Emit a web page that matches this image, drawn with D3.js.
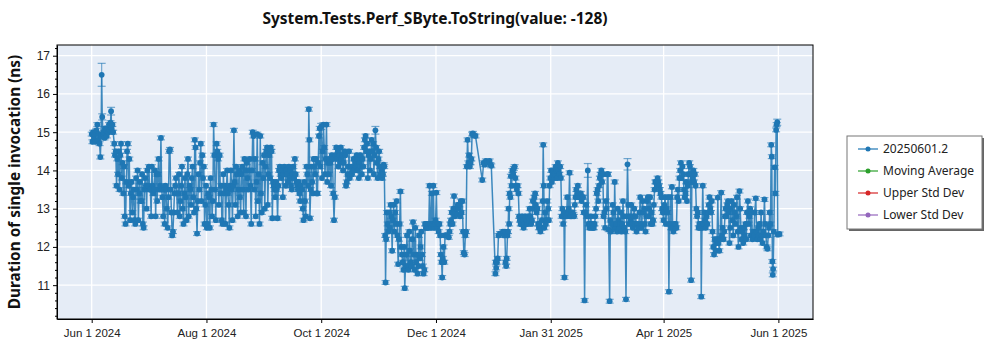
<!DOCTYPE html>
<html><head><meta charset="utf-8">
<script src="https://cdn.jsdelivr.net/npm/d3@7"></script>
<style>
html,body{margin:0;padding:0;background:#fff;}
svg{display:block;font-family:"Noto Sans","Open Sans",sans-serif;}
</style></head>
<body><svg id="c" width="1000" height="350"></svg>
<script>
const chartTitle = "System.Tests.Perf_SByte.ToString(value: -128)";
const yAxisTitle = "Duration of single invocation (ns)";
const seriesNames = ["20250601.2", "Moving Average", "Upper Std Dev", "Lower Std Dev"];
const seriesColors = ["#1f77b4", "#2ca02c", "#d62728", "#9467bd"];
const firstRun = "2024-06-01";
const xTickDates = ["2024-06-01","2024-08-01","2024-10-01","2024-12-01","2025-01-31","2025-04-01","2025-06-01"];
const xTickLabels = ["Jun 1 2024","Aug 1 2024","Oct 1 2024","Dec 1 2024","Jan 31 2025","Apr 1 2025","Jun 1 2025"];
const yTickValues = [11, 12, 13, 14, 15, 16, 17];

// days after firstRun
const runDay = [
0.0,0.4,0.8,1.2,1.6,2.0,2.5,3.0,3.4,3.8,
4.2,4.6,5.0,5.3,5.6,6.0,6.4,6.8,7.2,7.6,
8.0,8.4,8.8,9.2,9.6,10.0,10.3,10.6,11.0,11.4,
12.0,12.4,12.8,13.2,13.6,14.0,14.4,14.8,15.2,15.6,
16.0,16.4,16.8,17.2,17.6,18.0,18.4,18.8,19.2,19.6,
20.0,20.4,20.8,21.2,21.6,22.0,22.4,22.8,23.2,23.6,
24.0,24.4,24.8,25.2,25.6,26.0,26.4,26.8,27.2,27.6,
28.0,28.4,28.8,29.2,29.6,30.0,30.4,30.8,31.2,31.6,
32.0,32.4,32.8,33.2,33.6,34.0,34.4,34.8,35.2,35.6,
36.0,36.4,36.8,37.2,37.6,38.0,38.4,38.8,39.2,39.6,
40.0,40.4,40.8,41.2,41.6,42.0,42.4,42.8,43.2,43.6,
44.0,44.4,44.8,45.2,45.6,46.0,46.4,46.8,47.2,47.6,
48.0,48.4,48.8,49.2,49.6,50.0,50.4,50.8,51.2,51.6,
52.0,52.4,52.8,53.2,53.6,54.0,54.4,54.8,55.2,55.6,
56.0,56.4,56.8,57.2,57.6,58.0,58.4,58.8,59.2,59.6,
60.0,60.4,60.8,61.2,61.6,62.0,62.4,62.8,63.2,63.6,
64.0,64.4,64.8,65.2,65.6,66.0,66.4,66.8,67.2,67.6,
68.0,68.4,68.8,69.2,69.6,70.0,70.4,70.8,71.2,71.6,
72.0,72.4,72.8,73.2,73.6,74.0,74.4,74.8,75.2,75.6,
76.0,76.4,76.8,77.2,77.6,78.0,78.4,78.8,79.2,79.6,
80.0,80.4,80.8,81.2,81.6,82.0,82.4,82.8,83.2,83.6,
84.0,84.4,84.8,85.2,85.6,86.0,86.4,86.8,87.2,87.6,
88.0,88.4,88.8,89.2,89.6,90.0,90.4,90.8,91.2,91.6,
92.0,92.4,92.8,93.2,93.6,94.0,94.4,94.8,95.2,95.6,
96.0,96.4,96.8,97.2,97.6,98.0,98.4,98.8,99.2,99.6,
100.0,100.4,100.8,101.2,101.6,102.0,102.4,102.8,103.2,103.6,
104.0,104.4,104.8,105.2,105.6,106.0,106.4,106.8,107.2,107.6,
108.0,108.4,108.8,109.2,109.6,110.0,110.4,110.8,111.2,111.8,
112.2,112.6,113.0,113.4,113.8,114.2,114.6,115.0,115.4,115.7,
116.0,116.4,116.8,117.2,117.6,118.0,118.4,118.8,119.2,119.6,
120.0,120.4,120.8,121.2,121.6,122.0,122.4,122.8,123.2,123.6,
124.0,124.4,124.8,125.2,125.6,126.0,126.4,126.8,127.2,127.6,
128.0,128.4,128.8,129.2,129.6,130.0,130.4,130.8,131.2,131.6,
132.0,132.4,132.8,133.2,133.6,134.0,134.4,134.8,135.2,135.6,
136.0,136.4,136.8,137.2,137.6,138.0,138.4,138.8,139.2,139.6,
140.0,140.4,140.8,141.2,141.6,142.0,142.4,142.8,143.2,143.6,
144.0,144.4,144.8,145.2,145.6,146.0,146.4,146.8,147.2,147.6,
148.0,148.4,148.8,149.2,149.6,150.0,150.4,150.8,151.2,151.6,
152.0,152.4,152.8,153.2,153.6,154.0,154.4,154.8,155.2,155.5,
156.0,156.2,156.5,156.9,157.3,157.7,158.1,158.5,158.9,159.3,
159.7,160.1,160.5,160.9,161.3,161.7,162.1,162.5,162.9,163.3,
163.7,164.1,164.5,164.9,165.3,165.7,166.1,166.4,166.8,167.2,
167.6,168.0,168.4,168.8,169.2,169.6,170.0,170.4,170.8,171.2,
171.6,172.0,172.4,172.8,173.2,173.6,174.0,174.4,174.8,175.2,
175.6,176.0,176.4,176.8,177.2,177.6,178.0,178.4,178.8,179.2,
179.6,180.0,180.4,180.8,181.2,181.6,182.0,182.4,182.8,183.2,
183.6,184.0,184.4,184.8,185.2,185.6,186.0,186.3,186.6,187.0,
187.4,187.8,188.2,188.6,189.2,189.8,190.2,190.6,191.0,191.4,
191.8,192.2,192.6,193.0,193.4,193.8,194.2,194.6,195.0,195.4,
195.8,196.2,196.6,197.0,197.4,197.8,198.2,198.6,199.0,199.4,
199.8,200.2,200.6,201.0,201.4,201.8,202.2,202.6,203.0,204.0,
207.6,208.3,208.8,209.5,210.5,211.5,212.0,212.4,
214.6,214.8,215.0,215.4,215.8,216.2,217.0,217.8,218.6,219.2,
219.6,220.0,220.3,220.6,221.0,221.3,221.6,221.9,222.2,222.5,
222.8,223.2,223.6,224.0,224.4,224.8,225.2,225.6,226.0,226.4,
226.8,227.2,227.6,228.0,228.4,228.8,229.2,229.6,230.0,230.4,
230.8,231.2,231.6,232.0,232.4,232.8,233.2,233.6,234.0,234.5,
234.9,235.3,235.7,236.1,236.5,236.9,237.3,237.7,238.1,238.5,
238.9,239.3,239.7,240.0,240.3,240.6,241.0,241.4,241.8,242.2,
242.6,243.0,243.4,
243.8,244.2,244.6,245.0,245.4,245.8,246.2,246.6,247.0,247.4,
247.8,248.2,248.6,249.0,249.4,249.8,250.2,250.6,251.0,251.3,
251.6,252.0,252.4,252.8,253.2,253.6,254.0,254.4,254.8,255.2,
255.6,256.0,256.4,256.8,257.2,257.6,258.0,258.4,258.8,259.2,
259.6,260.0,260.4,260.8,261.2,261.6,262.0,262.4,262.8,263.2,
263.7,264.1,264.5,264.9,265.3,265.7,266.1,266.5,266.9,267.3,
267.7,268.1,268.5,268.9,269.3,269.7,270.1,270.5,270.9,271.3,
271.7,272.1,272.5,272.9,273.3,273.7,274.1,274.4,274.8,275.3,
275.7,276.1,276.5,276.9,277.3,277.7,278.0,278.4,278.8,279.2,
279.6,280.0,280.4,280.8,281.2,281.6,282.0,282.4,282.8,283.2,
283.6,284.0,284.4,284.8,285.2,285.6,286.0,286.4,286.8,287.2,
287.6,288.0,288.4,288.8,289.2,289.6,290.0,290.4,290.8,291.2,
291.6,292.0,292.4,292.8,293.2,293.6,294.0,294.4,294.8,295.2,
295.6,296.0,296.4,296.8,297.2,297.6,298.0,298.4,298.8,299.2,
299.6,300.0,300.4,300.8,301.2,301.6,302.0,302.4,302.8,303.2,
303.6,304.0,304.4,
304.8,305.2,305.6,306.0,306.4,306.8,307.2,307.6,308.0,308.4,
308.8,309.2,309.6,310.0,310.4,310.8,311.2,311.6,312.0,312.4,
312.8,313.2,313.6,314.0,314.4,314.8,315.2,315.6,316.0,316.4,
316.8,317.2,317.6,318.0,318.3,318.6,319.0,319.4,319.8,320.2,
320.6,321.0,321.4,321.8,322.2,322.6,323.0,323.4,323.8,324.0,
324.4,324.8,325.2,325.6,326.0,326.4,326.8,327.2,327.6,328.0,
328.4,328.8,329.2,329.6,330.0,330.4,330.8,331.2,331.6,332.0,
332.4,332.8,333.2,333.6,334.0,334.6,
335.0,335.4,335.8,336.2,336.6,337.0,337.4,337.8,338.2,338.6,
339.0,339.4,339.8,340.2,340.6,341.0,341.4,341.8,342.2,342.6,
343.0,343.4,343.8,344.3,344.7,345.1,345.5,345.9,346.3,346.7,
347.1,347.5,347.9,348.3,348.8,349.2,349.6,350.0,350.4,350.8,
351.2,351.6,352.0,352.4,353.0,353.4,353.8,354.2,354.6,355.0,
355.4,355.8,356.2,356.6,357.0,357.6,358.0,358.4,358.8,359.2,
359.6,360.0,360.4,360.8,361.2,361.5,361.8,362.0,362.2,362.6,
363.0,363.4,363.8,364.1,364.4,364.7,365.6
];

// measured duration, ns
const durationNs = [
14.95,14.75,15.0,14.85,14.95,14.75,15.05,15.2,14.8,14.95,
14.7,14.35,14.9,16.5,15.4,14.95,15.0,14.85,15.1,15.05,
14.9,15.1,15.0,15.2,15.05,15.25,15.55,15.1,15.2,15.0,
14.7,14.4,14.5,13.6,14.3,13.9,14.5,13.5,14.4,14.7,
13.8,14.2,13.4,14.1,12.8,12.6,13.7,14.5,14.7,13.6,
14.3,12.7,13.4,13.7,12.9,13.3,13.5,12.7,12.6,13.8,
13.5,14.0,12.7,13.4,13.7,13.2,13.2,13.9,12.6,12.5,
13.5,13.8,13.6,13.0,14.0,13.6,14.1,13.5,13.5,12.8,
14.1,13.6,13.4,13.5,14.0,12.8,13.9,13.2,13.9,14.3,
13.5,13.6,14.85,13.5,13.3,12.8,13.5,12.6,13.6,13.5,
13.0,12.5,13.3,14.5,14.55,13.5,12.9,12.3,12.4,12.9,
13.4,13.6,13.8,13.4,12.9,13.4,13.9,12.8,13.2,13.6,
14.1,13.0,12.6,13.4,13.8,13.3,12.7,13.9,14.3,12.8,
13.6,13.5,13.1,13.8,14.1,13.3,12.9,14.8,14.6,13.0,
12.35,13.2,13.9,13.5,14.2,14.7,13.2,14.4,13.8,14.1,
12.6,13.1,13.6,12.5,12.6,13.4,13.3,12.5,13.8,13.5,
12.8,13.2,15.2,14.4,13.5,12.7,14.7,14.5,14.3,13.1,
14.4,13.4,13.6,12.7,12.6,13.9,13.4,13.6,12.6,13.5,
14.0,13.4,13.1,12.5,13.6,14.0,13.5,12.7,13.6,15.05,
13.7,13.1,14.1,13.9,12.8,13.5,14.0,13.3,12.9,13.9,
14.1,13.5,12.9,14.3,14.0,12.8,14.2,13.8,13.5,14.0,
14.3,13.6,12.6,14.0,15.0,14.9,13.5,14.3,12.8,13.7,
14.95,13.2,13.9,12.6,14.9,13.4,12.9,14.2,13.8,14.4,
13.0,14.1,14.5,14.6,13.1,13.9,14.4,13.8,14.6,14.5,
12.75,13.7,13.6,13.5,13.3,13.7,13.5,12.75,13.6,14.0,
14.1,13.9,13.8,14.0,13.3,13.9,14.1,14.0,13.6,14.0,
13.9,13.7,14.1,13.8,14.0,13.6,13.5,13.9,14.1,13.8,
14.3,13.9,13.7,13.6,13.5,13.7,13.4,13.2,13.6,13.5,
13.0,12.7,13.7,13.2,12.8,14.1,13.9,13.6,15.6,14.8,
12.75,13.5,14.1,13.7,13.4,14.3,14.1,13.9,14.3,13.4,
13.4,14.2,14.9,15.1,14.1,15.15,13.8,14.5,15.2,14.6,
13.9,14.3,15.2,13.7,14.2,13.9,14.3,14.2,13.6,14.4,
14.3,13.4,12.7,13.3,14.4,14.6,14.3,14.5,14.1,14.4,
14.2,14.6,14.3,14.4,14.0,14.2,14.5,14.4,13.6,13.7,
13.9,14.1,14.5,13.8,13.9,14.1,13.9,14.0,14.3,14.0,
14.2,14.1,14.4,14.3,14.0,13.8,14.2,14.4,14.1,13.9,
14.3,14.1,14.6,14.8,14.9,14.5,14.7,13.8,14.4,14.5,
14.0,14.3,14.8,14.5,14.7,13.9,14.4,15.05,14.6,14.2,
13.8,14.3,14.5,14.1,13.9,14.0,13.8,13.9,14.15,14.1,
12.3,11.07,12.2,12.9,12.6,12.4,12.9,12.5,13.1,12.8,
11.9,12.7,13.1,12.4,12.9,12.6,13.2,12.3,11.55,12.2,
12.6,13.45,12.0,11.8,11.6,11.4,12.0,10.92,11.5,11.8,
12.3,11.5,11.4,12.4,11.9,11.6,11.5,12.2,12.65,11.8,
11.4,12.5,11.6,11.8,11.3,11.5,12.3,11.7,12.0,12.4,
11.8,11.5,11.3,11.4,12.6,12.5,12.6,12.5,12.5,12.6,
13.6,12.6,12.5,13.4,12.6,13.6,12.5,12.6,12.7,13.42,
12.5,12.6,12.4,12.6,12.3,11.8,11.6,11.2,11.7,12.0,
11.6,12.3,12.3,12.3,12.3,12.25,12.4,12.6,12.7,12.9,
12.6,13.0,13.33,12.8,12.9,13.0,12.85,13.1,13.0,13.1,
12.8,13.2,12.9,13.2,12.4,11.85,11.8,12.3,12.4,14.1,
14.8,14.2,14.4,14.1,14.2,14.3,14.95,14.97,14.92,14.9,
13.75,14.2,14.15,14.25,14.2,14.25,14.15,14.12,
11.3,11.6,11.45,11.6,11.7,12.3,12.35,12.35,12.4,12.3,
12.4,11.6,11.5,11.7,12.3,12.4,13.0,12.6,13.4,13.3,
13.85,13.6,14.0,13.9,14.05,14.1,13.8,13.6,13.5,13.6,
13.4,12.8,12.7,12.6,12.6,12.8,12.7,12.5,12.6,12.8,
12.6,12.7,12.6,12.8,12.7,13.0,12.8,12.6,12.7,13.2,
13.0,13.3,13.4,13.1,12.9,13.0,12.6,12.5,12.6,12.4,
12.5,12.7,13.2,14.67,13.6,12.5,12.9,12.6,12.7,13.2,
13.0,12.7,13.6,
13.8,14.0,13.7,13.9,14.0,13.8,13.9,14.1,14.0,13.8,
14.2,14.0,13.9,14.1,13.8,12.8,13.0,12.6,12.9,11.2,
12.8,12.9,12.8,13.3,12.9,13.0,13.94,12.8,12.9,12.8,
12.9,12.85,12.8,13.1,13.3,13.5,13.4,13.6,13.3,13.4,
13.3,13.4,13.2,13.3,13.3,12.9,10.6,12.9,13.1,12.8,
14.0,12.6,12.5,12.6,12.8,12.5,12.6,12.5,12.5,12.6,
12.8,13.0,13.4,13.5,13.2,13.6,13.8,13.9,14.0,13.7,
13.9,12.8,12.9,12.5,13.2,13.0,13.9,13.9,12.45,10.58,
12.7,12.4,12.6,13.1,12.9,12.5,13.7,12.5,12.6,12.4,
13.0,12.7,12.5,12.6,12.9,12.4,12.6,13.2,12.8,12.5,
12.4,10.63,12.8,14.16,13.1,12.6,12.8,12.7,13.1,12.6,
12.5,12.8,13.0,12.6,12.8,12.4,12.6,12.5,12.5,12.9,
13.3,12.6,12.5,13.2,12.9,13.0,12.6,12.4,12.8,13.2,
13.3,12.8,13.0,13.3,12.6,12.9,12.6,12.7,13.1,13.5,
13.7,13.7,13.6,13.8,13.7,13.6,13.5,13.4,13.3,13.0,
12.9,12.7,13.1,
13.3,12.6,13.0,12.9,13.3,10.83,12.6,13.3,12.5,13.57,
12.5,12.4,12.6,12.5,12.6,12.5,13.3,13.5,13.2,13.8,
14.0,14.2,13.8,14.1,13.9,13.5,13.3,13.4,13.7,13.2,
13.6,13.9,14.2,14.1,13.9,11.13,13.7,13.8,14.0,13.7,
13.9,13.6,13.0,12.8,12.9,12.5,12.6,12.5,12.6,10.7,
12.5,13.6,12.6,12.9,12.7,12.5,12.8,12.6,12.9,13.1,
13.3,13.0,12.9,13.2,12.4,12.0,11.8,12.2,11.9,12.1,
12.2,13.29,12.1,11.9,12.2,13.42,
12.3,12.5,12.2,12.4,12.8,13.0,12.8,13.1,13.2,12.9,
12.1,12.5,13.0,13.2,12.7,12.3,13.1,12.9,12.6,12.8,
13.3,12.4,12.0,13.46,13.0,12.5,12.2,12.4,12.1,12.5,
12.3,12.6,12.2,12.9,13.2,12.6,12.8,13.0,12.3,12.9,
12.2,12.4,12.3,12.9,13.27,12.4,12.2,12.5,12.3,12.6,
12.2,12.9,12.3,12.1,12.4,13.24,12.6,12.3,12.0,11.95,
12.3,12.5,12.9,12.6,14.67,14.36,11.62,11.27,11.42,12.4,
14.08,13.4,15.06,15.2,15.26,12.32,12.34
];

// typical error half-width (ns) and the few runs with wider error bars
const typicalErrorNs = 0.05;
const wideErrorDay = [5.3, 5.6, 10.3, 122.0, 150.8, 263.7, 284.8, 364.4];
const wideErrorNs  = [0.3, 0.08, 0.1, 0.08, 0.1, 0.18, 0.15, 0.08];

// ---------- drawing ----------
const svg = d3.select("#c");
const P = {left: 57, top: 45, right: 813, bottom: 319};
const dayMs = 864e5;
const t0 = Date.parse(firstRun + "T00:00:00Z");
const toDate = d => new Date(t0 + d * dayMs);

const data = runDay.map((d, i) => {
  const k = wideErrorDay.indexOf(d);
  return {date: toDate(d), v: durationNs[i], e: k >= 0 ? wideErrorNs[k] : typicalErrorNs};
});

const x = d3.scaleUtc().domain([toDate(-18.44), toDate(383.4)]).range([P.left, P.right]);
const y = d3.scaleLinear().domain([10.115, 17.28]).range([P.bottom, P.top]);
const tickDates = xTickDates.map(s => new Date(s + "T00:00:00Z"));

// background
svg.append("rect").attr("x", P.left).attr("y", P.top)
  .attr("width", P.right - P.left).attr("height", P.bottom - P.top).attr("fill", "#e5ecf6");

// grid
const grid = svg.append("g").attr("stroke", "#fff").attr("stroke-width", 1.3);
grid.selectAll("line.v").data(tickDates).join("line")
  .attr("x1", d => x(d)).attr("x2", d => x(d)).attr("y1", P.top).attr("y2", P.bottom);
grid.selectAll("line.h").data(yTickValues).join("line")
  .attr("y1", d => y(d)).attr("y2", d => y(d)).attr("x1", P.left).attr("x2", P.right);

// series
svg.append("clipPath").attr("id", "pc").append("rect")
  .attr("x", P.left).attr("y", P.top).attr("width", P.right - P.left).attr("height", P.bottom - P.top);
const plot = svg.append("g").attr("clip-path", "url(#pc)");
const col = seriesColors[0];

plot.append("path").datum(data)
  .attr("fill", "none").attr("stroke", col).attr("stroke-width", 1.5).attr("stroke-opacity", 0.85)
  .attr("d", d3.line().x(d => x(d.date)).y(d => y(d.v)));

const eb = plot.append("g").attr("stroke", col).attr("stroke-opacity", 0.6).attr("stroke-width", 1.2);
eb.selectAll("line.s").data(data).join("line")
  .attr("x1", d => x(d.date)).attr("x2", d => x(d.date))
  .attr("y1", d => y(d.v - d.e)).attr("y2", d => y(d.v + d.e));
eb.selectAll("line.t").data(data).join("line")
  .attr("x1", d => x(d.date) - 4).attr("x2", d => x(d.date) + 4)
  .attr("y1", d => y(d.v + d.e)).attr("y2", d => y(d.v + d.e));
eb.selectAll("line.b").data(data).join("line")
  .attr("x1", d => x(d.date) - 4).attr("x2", d => x(d.date) + 4)
  .attr("y1", d => y(d.v - d.e)).attr("y2", d => y(d.v - d.e));

plot.append("g").selectAll("circle").data(data).join("circle")
  .attr("cx", d => x(d.date)).attr("cy", d => y(d.v)).attr("r", 2.9).attr("fill", col);

// axes
const xAxis = d3.axisBottom(x).tickValues(tickDates).tickFormat((d, i) => xTickLabels[i])
  .tickSize(4).tickSizeOuter(0);
const gx = svg.append("g").attr("transform", `translate(0,${P.bottom})`).call(xAxis);
gx.select(".domain").attr("stroke", "#000");
gx.selectAll("text").attr("font-size", 11.5).attr("fill", "#222").attr("dy", "0.95em");

const yMinor = d3.range(10.2, 17.25, 0.2).filter(v => Math.abs(v - Math.round(v)) > 0.01);
svg.append("g").attr("transform", `translate(${P.left},0)`)
  .call(d3.axisLeft(y).tickValues(yMinor).tickSize(2).tickFormat(""))
  .call(g => g.select(".domain").remove());
const gy = svg.append("g").attr("transform", `translate(${P.left},0)`)
  .call(d3.axisLeft(y).tickValues(yTickValues).tickSize(4).tickSizeOuter(0).tickFormat(d3.format("d")));
gy.select(".domain").attr("stroke", "#000");
gy.selectAll("text").attr("font-size", 12).attr("fill", "#222");

// frame
svg.append("rect").attr("x", P.left).attr("y", P.top)
  .attr("width", P.right - P.left).attr("height", P.bottom - P.top)
  .attr("fill", "none").attr("stroke", "#000").attr("stroke-width", 1);

// titles
svg.append("text").attr("x", (P.left + P.right) / 2).attr("y", 24)
  .attr("text-anchor", "middle").attr("font-size", 15.5).attr("font-weight", "bold").attr("fill", "#111")
  .text(chartTitle);
svg.append("text").attr("transform", `translate(20,${(P.top + P.bottom) / 2}) rotate(-90)`)
  .attr("text-anchor", "middle").attr("font-size", 15.4).attr("font-weight", "bold").attr("fill", "#111")
  .text(yAxisTitle);

// legend
const L = {x: 847, y: 136, w: 135, h: 93};
svg.append("rect").attr("x", L.x + 2).attr("y", L.y + 2).attr("width", L.w).attr("height", L.h).attr("fill", "#666");
svg.append("rect").attr("x", L.x).attr("y", L.y).attr("width", L.w).attr("height", L.h)
  .attr("fill", "#fff").attr("stroke", "#777").attr("stroke-width", 1);
const li = svg.append("g").selectAll("g").data(seriesNames).join("g")
  .attr("transform", (d, i) => `translate(${L.x + 11},${L.y + 13 + i * 22})`);
li.append("line").attr("x1", 0).attr("x2", 20).attr("stroke", (d, i) => seriesColors[i]).attr("stroke-width", 1.2);
li.append("circle").attr("cx", 10).attr("r", 2.5).attr("fill", (d, i) => seriesColors[i]);
li.append("text").attr("x", 25).attr("dy", "0.35em").attr("font-size", 12).attr("fill", "#222").text(d => d);
</script>
</body></html>
